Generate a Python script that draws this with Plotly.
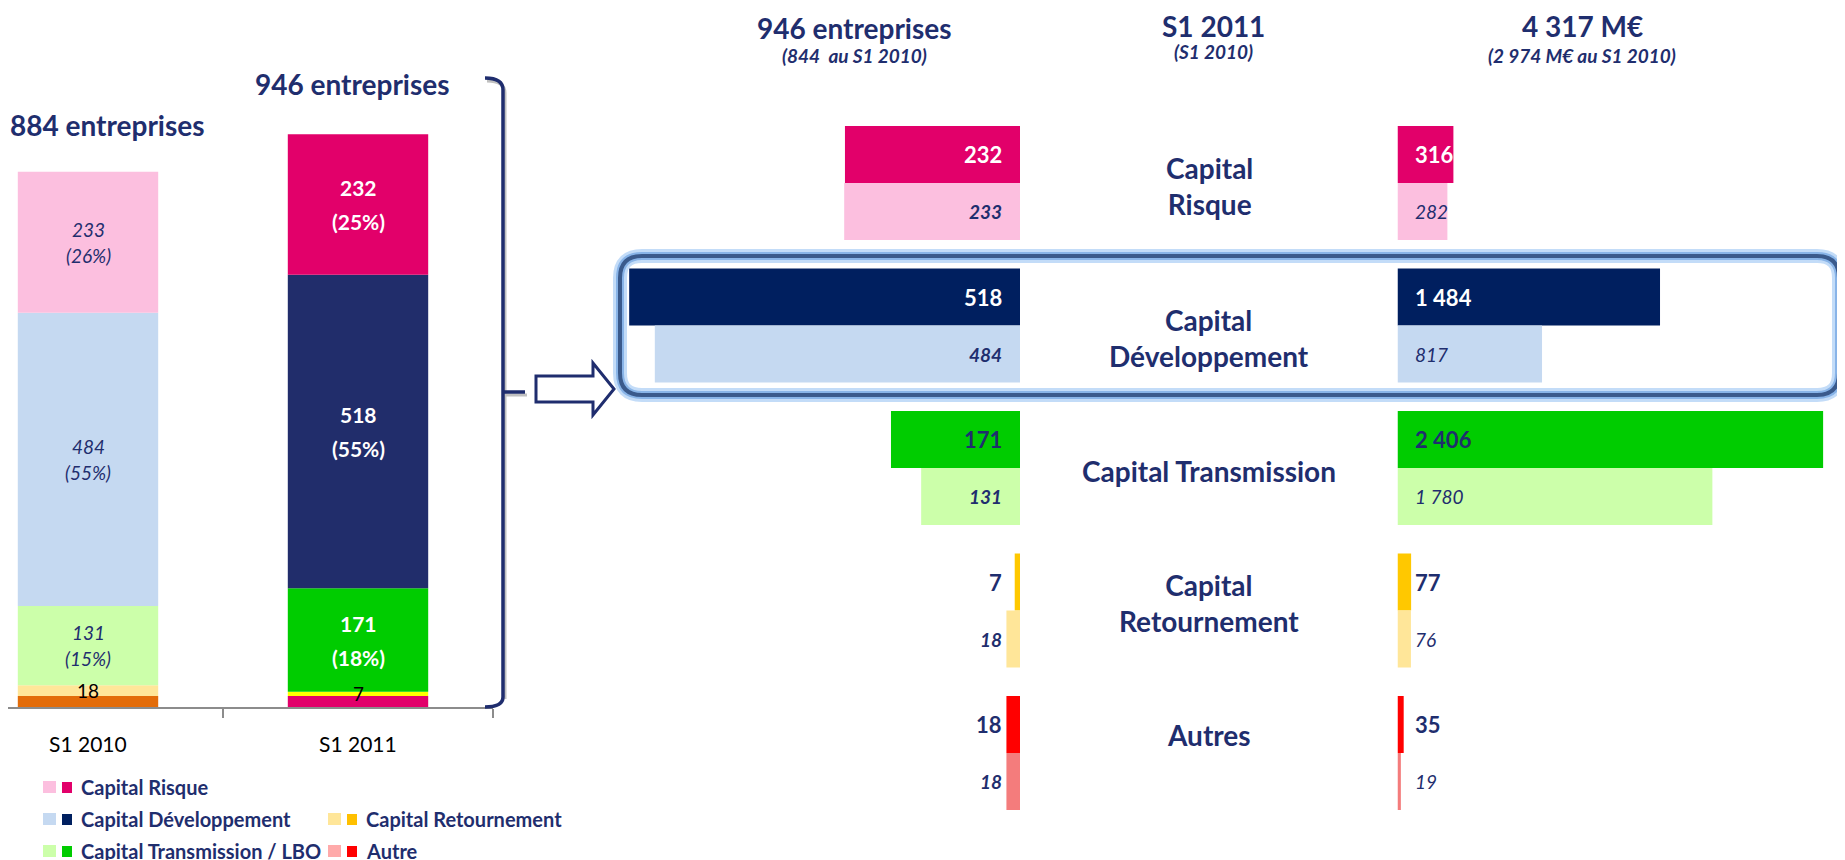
import numpy as np
import plotly.graph_objects as go

W, H = 1845, 860
OFF = 8  # marge du body de la page html
NAVY = "#1F2E6E"
FONT = "Lato"

# graphique de gauche : nombre d'entreprises par type (du bas vers le haut)
periods = ["S1 2010", "S1 2011"]
stack_names = ["Autre", "Capital Retournement", "Capital Transmission / LBO",
               "Capital Développement", "Capital Risque"]
stack_2010 = [18, 18, 131, 484, 233]
stack_2011 = [18, 7, 171, 518, 232]
period_titles = ["884 entreprises", "946 entreprises"]
stack_colors_2010 = ["#E36C09", "#FFE699", "#CCFFAA", "#C5D9F1", "#FCBFDF"]
stack_colors_2011 = ["#E2006A", "#FFFF00", "#00CC00", "#212D6B", "#E2006A"]

# graphique de droite : S1 2011 (foncé) vs S1 2010 (clair)
segments = ["Capital<br>Risque", "Capital<br>Développement", "Capital Transmission",
            "Capital<br>Retournement", "Autres"]
nb_2011 = [232, 518, 171, 7, 18]
nb_2010 = [233, 484, 131, 18, 18]
mnt_2011 = [316, 1484, 2406, 77, 35]
mnt_2010 = [282, 817, 1780, 76, 19]
colors_2011 = ["#E2006A", "#001F5F", "#00CC00", "#FFC800", "#FF0000"]
colors_2010 = ["#FCBFDF", "#C5D9F1", "#CCFFAA", "#FFE699", "#F47C7C"]
label_colors_2011 = ["white", "white", NAVY, NAVY, NAVY]
segment_label_shift = [-3, -12, -3, 8, 18]

legend_names = ["Capital Risque", "Capital Développement", "Capital Retournement",
                "Capital Transmission / LBO", "Autre"]
legend_pale = ["#FCBFDF", "#C5D9F1", "#FFE699", "#CCFFAA", "#FFAAAA"]
legend_dark = ["#E2006A", "#002060", "#FFC000", "#00CC00", "#FF0000"]


def px(x):
    return (x - OFF) / W


def py(y):
    return 1 - (y - OFF) / H


def fmt(v):
    return f"{v:,}".replace(",", " ")


fig = go.Figure()

# barres empilées
stacks = [stack_2010, stack_2011]
bases = [np.cumsum([0] + s[:-1]).tolist() for s in stacks]
for i, name in enumerate(stack_names):
    fig.add_trace(go.Bar(
        x=periods, y=[stack_2010[i], stack_2011[i]], base=[bases[0][i], bases[1][i]],
        marker=dict(color=[stack_colors_2010[i], stack_colors_2011[i]], line_width=0),
        width=0.52, offset=-0.26, xaxis="x", yaxis="y", name=name,
        showlegend=False, hoverinfo="skip"))

# barres horizontales
for vals, cols, off, xa in [(nb_2011, colors_2011, -0.4, "x2"), (nb_2010, colors_2010, 0, "x2"),
                            (mnt_2011, colors_2011, -0.4, "x3"), (mnt_2010, colors_2010, 0, "x3")]:
    fig.add_trace(go.Bar(
        y=segments, x=vals, orientation="h", width=0.4, offset=off,
        marker=dict(color=cols, line_width=0), xaxis=xa, yaxis="y2",
        showlegend=False, hoverinfo="skip"))

ann = []


def text(x, y, t, size, bold=True, italic=False, color=NAVY, **kw):
    d = dict(x=x, y=y, text=t, showarrow=False, xanchor="center", yanchor="middle",
             xref="paper", yref="paper",
             font=dict(family=FONT, size=size, color=color,
                       weight="bold" if bold else "normal",
                       style="italic" if italic else "normal"))
    d.update(kw)
    ann.append(d)


# étiquettes du graphique empilé
for j, period in enumerate(periods):
    total = sum(stacks[j])
    for i, name in enumerate(stack_names):
        v = stacks[j][i]
        mid = bases[j][i] + v / 2
        if name == "Autre":
            continue
        if name == "Capital Retournement":
            text(period, mid, str(v), 19, bold=False, color="black", xref="x", yref="y")
            continue
        pct = f"({round(v / total * 100)}%)"
        if j == 0:
            sty = dict(size=19, bold=False, italic=True, color=NAVY)
            sh = 13
        else:
            sty = dict(size=21, bold=True, italic=False, color="white")
            sh = 17
        text(period, mid, str(v), xref="x", yref="y", yshift=sh, **sty)
        text(period, mid, pct, xref="x", yref="y", yshift=-sh, **sty)
    text(period, py(743), period, 21, bold=False, color="black", xref="x")

text(px(107), py(125), period_titles[0], 28)
text(px(352), py(84), period_titles[1], 28)

# étiquettes des barres horizontales
for i in range(len(segments)):
    text(0, i - 0.2, fmt(nb_2011[i]), 22, color=label_colors_2011[i],
         xref="x2", yref="y2", xanchor="right", xshift=-16)
    text(0, i + 0.2, fmt(nb_2010[i]), 19, italic=True,
         xref="x2", yref="y2", xanchor="right", xshift=-16)
    text(0, i - 0.2, fmt(mnt_2011[i]), 22, color=label_colors_2011[i],
         xref="x3", yref="y2", xanchor="left", xshift=15)
    text(0, i + 0.2, fmt(mnt_2010[i]), 19, bold=False, italic=True,
         xref="x3", yref="y2", xanchor="left", xshift=15)
    text(px(1209), i, segments[i], 28, yref="y2", yshift=segment_label_shift[i])

# en-têtes
text(px(854), py(28), "946 entreprises", 28)
text(px(854), py(55), "(844  au S1 2010)", 19, italic=True)
text(px(1213), py(26), "S1 2011", 28)
text(px(1213), py(51), "(S1 2010)", 19, italic=True)
text(px(1582), py(26), "4 317 M€", 28)
text(px(1582), py(55), "(2 974 M€ au S1 2010)", 19, italic=True)

shapes = []

# légende
legend_slots = [(43, 787), (43, 819), (328, 819), (43, 851), (328, 851)]
for k, name in enumerate(legend_names):
    x0, yc = legend_slots[k]
    shapes.append(dict(type="rect", xref="paper", yref="paper", line_width=0,
                       fillcolor=legend_pale[k], x0=px(x0), x1=px(x0 + 13),
                       y0=py(yc + 6), y1=py(yc - 6)))
    shapes.append(dict(type="rect", xref="paper", yref="paper", line_width=0,
                       fillcolor=legend_dark[k], x0=px(x0 + 19), x1=px(x0 + 29),
                       y0=py(yc + 6), y1=py(yc - 5)))
    text(px(x0 + 36), py(yc), name, 20, xanchor="left")


def path(cmds, close=False):
    s = ""
    for cmd, pts in cmds:
        s += cmd + " " + " ".join(f"{px(a):.5f},{py(b):.5f}" for a, b in pts) + " "
    return s + ("Z" if close else "")


# accolade
brace = path([("M", [(485, 78)]), ("Q", [(503, 78), (503, 90)]), ("L", [(503, 697)]),
              ("Q", [(503, 707), (485, 707)]), ("M", [(503, 392)]), ("L", [(525, 392)])])
brace_sh = path([("M", [(487, 81)]), ("Q", [(505, 81), (505, 93)]), ("L", [(505, 699)]),
                 ("M", [(505, 395)]), ("L", [(527, 395)])])
shapes.append(dict(type="path", path=brace_sh, xref="paper", yref="paper",
                   line=dict(color="rgba(150,150,150,0.6)", width=3)))
shapes.append(dict(type="path", path=brace, xref="paper", yref="paper",
                   line=dict(color="#1F2D6E", width=3.5)))

# flèche
arrow_pts = [(593, 376), (593, 363), (614, 389), (593, 415), (593, 402), (536, 402)]
arrow = path([("M", [(536, 376)])] + [("L", [p]) for p in arrow_pts], close=True)
shapes.append(dict(type="path", path=arrow, xref="paper", yref="paper",
                   fillcolor="white", line=dict(color="#1F2D6E", width=3)))

# cadre arrondi
x0, x1, y0, y1, r = 620, 1839, 256, 395, 22
box = path([("M", [(x0 + r, y0)]), ("L", [(x1 - r, y0)]), ("Q", [(x1, y0), (x1, y0 + r)]),
            ("L", [(x1, y1 - r)]), ("Q", [(x1, y1), (x1 - r, y1)]), ("L", [(x0 + r, y1)]),
            ("Q", [(x0, y1), (x0, y1 - r)]), ("L", [(x0, y0 + r)]), ("Q", [(x0, y0), (x0 + r, y0)])],
           close=True)
for col, wd in [("rgba(170,205,245,0.7)", 14), ("rgba(130,175,230,0.9)", 8), ("#3A5A8C", 4)]:
    shapes.append(dict(type="path", path=box, xref="paper", yref="paper",
                       line=dict(color=col, width=wd)))

fig.update_layout(
    width=W, height=H, margin=dict(l=0, r=0, t=0, b=0),
    paper_bgcolor="white", plot_bgcolor="white", showlegend=False,
    font=dict(family=FONT, color=NAVY),
    xaxis=dict(domain=[0, px(493)], type="category", categoryorder="array", categoryarray=periods,
               range=[(OFF - 88) / 270, 405 / 270], showline=True, linecolor="#8C8C8C", linewidth=2,
               ticks="outside", tickson="boundaries", ticklen=9, tickcolor="#8C8C8C",
               tickwidth=2, showticklabels=False, showgrid=False, zeroline=False),
    yaxis=dict(domain=[py(707), py(60)], range=[0, 647 / 0.6055], visible=False),
    xaxis2=dict(domain=[px(600), px(1020)], range=[(1020 - 600) / 0.7545, 0],
                anchor="y2", visible=False),
    xaxis3=dict(domain=[px(1397.5), px(1845)], range=[0, (1845 - 1397.5) / 0.1769],
                anchor="y2", visible=False),
    yaxis2=dict(domain=[py(824.25), py(111.75)], type="category", categoryorder="array",
                categoryarray=segments, range=[4.5, -0.5], anchor="x2", visible=False),
    annotations=ann, shapes=shapes,
)

fig.write_html("out.html")
